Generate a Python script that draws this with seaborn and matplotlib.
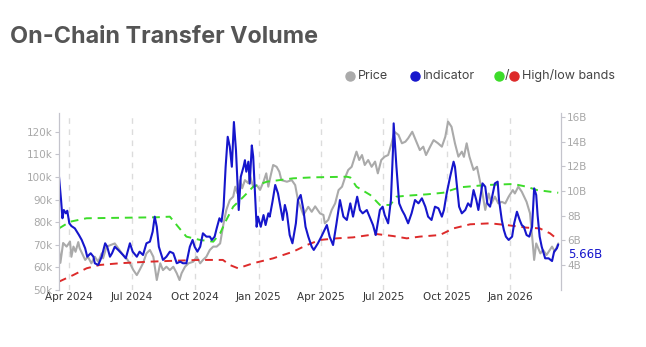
import matplotlib
matplotlib.use("Agg")
import matplotlib.pyplot as plt
import matplotlib.dates as mdates
from matplotlib.lines import Line2D
import seaborn as sns
import pandas as pd

# ---------------- data ----------------
BASE_DATE = "2024-04-01"          # day offsets below are counted from this date
X_START_DAY, X_END_DAY = -15, 714

price_day = [-15, -13, -9, -4, 1, 3, 6, 9, 13, 15, 23, 27, 32, 37, 42, 47, 49, 54, 66, 71,
             78, 83, 88, 93, 98, 102, 107, 112, 117, 122, 127, 132, 136, 141, 146, 151, 156,
             160, 163, 168, 173, 180, 185, 190, 194, 199, 204, 209, 214, 219, 224, 228, 233,
             238, 241, 244, 248, 251, 255, 260, 262, 267, 272, 277, 282, 286, 289, 292, 296,
             301, 305, 308, 316, 323, 328, 332, 340, 347, 352, 357, 364, 369, 371, 376, 381,
             386, 391, 396, 400, 405, 410, 417, 421, 425, 429, 434, 439, 444, 448, 453, 458,
             463, 468, 472, 478, 483, 488, 492, 498, 504, 509, 514, 518, 524, 529, 535, 541,
             546, 550, 555, 560, 565, 570, 573, 577, 581, 587, 592, 596, 600, 604, 609, 613,
             618, 623, 628, 633, 638, 644, 647, 652, 657, 664, 669, 673, 675, 678, 684, 688,
             693, 701, 705, 710]
price_k = [67.7, 62.0, 70.8, 69.2, 71.4, 64.7, 69.2, 66.9, 71.2, 68.5, 63.3, 64.7, 61.8, 64.7,
           62.5, 66.2, 64.0, 69.2, 70.6, 68.5, 65.5, 64.0, 61.8, 58.8, 56.6, 58.8, 61.8, 66.2,
           67.7, 64.7, 54.4, 61.8, 58.8, 60.3, 58.8, 60.3, 57.4, 54.4, 57.4, 60.3, 61.8, 62.5,
           64.7, 61.8, 63.3, 64.7, 67.7, 69.2, 69.2, 70.6, 79.5, 85.4, 89.8, 91.3, 95.7, 92.8,
           98.6, 95.0, 98.6, 97.2, 100.9, 95.7, 96.4, 94.3, 97.9, 101.6, 95.7, 100.1, 105.3,
           104.5, 102.3, 98.6, 97.9, 98.6, 96.4, 89.8, 83.2, 86.8, 84.6, 87.0, 83.9, 83.2, 79.5,
           81.0, 85.4, 88.3, 94.2, 95.7, 99.4, 103.1, 104.5, 111.2, 107.5, 109.7, 105.3, 107.5,
           104.5, 106.8, 101.6, 107.5, 109.0, 109.7, 114.9, 120.0, 118.6, 114.9, 115.6, 117.1,
           120.0, 115.6, 111.9, 113.4, 109.7, 113.4, 116.3, 115.0, 113.4, 117.8, 124.5, 122.2,
           114.9, 109.0, 111.2, 108.9, 114.9, 109.0, 103.1, 104.5, 98.6, 92.7, 85.4, 92.7, 88.3,
           91.3, 88.3, 89.0, 88.3, 91.3, 94.2, 92.7, 95.7, 93.5, 89.0, 83.9, 70.6, 63.3, 70.6,
           66.2, 67.7, 65.5, 69.2, 67.0, 70.6]

ind_day = [-15, -12, -10, -8, -5, -3, 0, 3, 8, 11, 14, 18, 23, 26, 31, 35, 37, 42, 47, 52, 55,
           59, 62, 66, 71, 78, 82, 88, 92, 98, 102, 107, 112, 117, 121, 124, 127, 130, 136, 141,
           146, 151, 156, 161, 165, 170, 175, 179, 182, 186, 190, 194, 199, 204, 207, 211, 214,
           218, 221, 224, 227, 230, 233, 236, 239, 242, 246, 249, 253, 255, 257, 260, 262, 265,
           267, 272, 274, 278, 282, 285, 289, 291, 295, 299, 303, 310, 313, 316, 320, 324, 329,
           332, 336, 340, 343, 347, 352, 355, 361, 366, 374, 378, 383, 388, 393, 398, 403, 408,
           412, 418, 422, 426, 432, 437, 441, 445, 451, 455, 458, 463, 467, 470, 471, 475, 479,
           483, 487, 492, 497, 502, 507, 512, 517, 521, 526, 531, 536, 541, 544, 548, 553, 558,
           560, 563, 566, 570, 575, 579, 583, 587, 591, 594, 597, 600, 604, 607, 611, 615, 618,
           622, 624, 628, 631, 634, 638, 643, 646, 650, 654, 657, 660, 664, 668, 672, 675, 678,
           680, 683, 686, 691, 696, 701, 704, 708, 710]
ind_b = [11.16, 9.27, 7.79, 8.46, 8.19, 8.40, 7.38, 7.16, 6.97, 6.70, 6.43, 6.03, 5.35, 4.67,
         4.95, 4.67, 4.14, 4.00, 4.67, 5.76, 5.48, 4.67, 4.95, 5.48, 5.22, 4.81, 4.54, 5.76,
         5.08, 4.67, 5.08, 4.81, 5.76, 5.89, 6.70, 7.92, 7.10, 5.48, 4.41, 4.67, 5.08, 4.95,
         4.14, 4.27, 4.14, 4.14, 5.48, 6.03, 5.48, 5.08, 5.48, 6.57, 6.30, 6.30, 6.03, 6.30,
         6.97, 7.79, 7.51, 8.73, 11.97, 14.40, 13.60, 11.97, 15.60, 13.30, 8.46, 11.16, 11.97,
         12.50, 11.57, 12.38, 10.60, 13.70, 12.80, 7.10, 7.92, 7.10, 8.05, 7.24, 8.19, 7.92,
         9.13, 10.49, 9.81, 7.65, 8.87, 8.19, 6.43, 5.76, 7.38, 9.27, 9.68, 8.46, 7.10, 6.30,
         5.48, 5.22, 5.76, 6.30, 7.24, 6.30, 5.62, 7.38, 9.27, 7.92, 7.65, 9.00, 7.92, 9.54,
         8.46, 8.19, 8.46, 7.79, 7.24, 6.43, 8.46, 8.73, 8.05, 7.38, 9.27, 13.33, 15.49, 11.97,
         9.00, 8.46, 8.05, 7.38, 8.19, 9.27, 9.00, 9.41, 8.73, 7.92, 7.65, 8.73, 8.60, 7.92,
         8.46, 9.81, 11.16, 12.38, 11.97, 10.35, 8.73, 8.19, 8.46, 9.00, 8.73, 10.08, 9.27,
         8.46, 9.54, 10.62, 10.35, 9.00, 8.73, 9.81, 10.62, 10.76, 9.27, 7.65, 6.84, 6.30,
         6.03, 6.30, 7.38, 8.32, 7.65, 7.24, 7.10, 6.43, 6.30, 7.10, 10.22, 9.68, 8.05, 6.30,
         5.48, 4.54, 4.54, 4.32, 5.08, 5.35, 5.66]

high_day = [-15, 1, 25, 127, 146, 158, 170, 190, 209, 219, 228, 238, 253, 267, 287, 306, 325,
            354, 403, 408, 417, 437, 451, 466, 475, 490, 519, 543, 567, 606, 645, 664, 679, 710]
high_b = [6.97, 7.51, 7.79, 7.87, 7.92, 7.10, 6.30, 6.03, 5.89, 6.57, 7.65, 8.73, 9.54, 10.35,
          10.76, 10.89, 11.03, 11.11, 11.16, 11.10, 10.35, 9.68, 8.87, 8.87, 9.54, 9.62, 9.73,
          9.86, 10.30, 10.49, 10.57, 10.35, 10.08, 9.86]

low_day = [-15, 6, 25, 44, 73, 117, 156, 190, 223, 233, 245, 267, 296, 325, 345, 364, 388, 412,
           446, 470, 490, 509, 538, 558, 582, 611, 635, 664, 683, 698, 710]
low_b = [2.65, 3.19, 3.73, 4.00, 4.14, 4.27, 4.35, 4.41, 4.41, 4.00, 3.73, 4.14, 4.54, 5.08,
         5.62, 6.03, 6.16, 6.24, 6.51, 6.35, 6.16, 6.30, 6.43, 6.97, 7.30, 7.38, 7.24, 7.03,
         6.97, 6.57, 6.03]

price_ticks_k = [50, 60, 70, 80, 90, 100, 110, 120]
ind_ticks_b = [4, 6, 8, 10, 12, 14, 16]
TITLE = "On-Chain Transfer Volume"
LEGEND_LABELS = ["Price", "Indicator", "High/low bands"]

# ---------------- build frames ----------------
base = pd.Timestamp(BASE_DATE)
def to_dates(days):
    return base + pd.to_timedelta(days, unit="D")

df_price = pd.DataFrame({"date": to_dates(price_day), "value": price_k})
df_ind = pd.DataFrame({"date": to_dates(ind_day), "value": ind_b})
df_high = pd.DataFrame({"date": to_dates(high_day), "value": high_b})
df_low = pd.DataFrame({"date": to_dates(low_day), "value": low_b})

# ---------------- style ----------------
sns.set_style("white")
plt.rcParams["font.family"] = ["DejaVu Sans"]

C_PRICE = "#aaaaaa"
C_IND = "#1616cc"
C_HIGH = "#3ddc2a"
C_LOW = "#dd2a2a"

W, H = 646, 347
fig = plt.figure(figsize=(W / 100, H / 100), dpi=100)
ax = fig.add_axes([59 / W, 1 - 290 / H, (561 - 59) / W, (290 - 113) / H])
ax2 = ax.twinx()

sns.lineplot(data=df_price, x="date", y="value", ax=ax, color=C_PRICE, linewidth=1.5)
sns.lineplot(data=df_high, x="date", y="value", ax=ax2, color=C_HIGH, linewidth=1.4,
             linestyle=(0, (4, 3)))
sns.lineplot(data=df_low, x="date", y="value", ax=ax2, color=C_LOW, linewidth=1.4,
             linestyle=(0, (4, 3)))
sns.lineplot(data=df_ind, x="date", y="value", ax=ax2, color=C_IND, linewidth=1.5)

ax.set_xlim(to_dates([X_START_DAY])[0], to_dates([X_END_DAY])[0])
ax.set_ylim(50, 128.3)
ax2.set_ylim(1.97, 16.33)

ax.set_yticks(price_ticks_k)
ax.set_yticklabels([f"{v}k" for v in price_ticks_k])
ax2.set_yticks(ind_ticks_b)
ax2.set_yticklabels([f"{v}B" for v in ind_ticks_b])

ax.xaxis.set_major_locator(mdates.MonthLocator(bymonth=[1, 4, 7, 10]))
ax.xaxis.set_major_formatter(mdates.DateFormatter("%b %Y"))

for a in (ax, ax2):
    a.set_xlabel("")
    a.set_ylabel("")
    a.spines["top"].set_visible(False)
    a.spines["bottom"].set_visible(False)
    a.spines["left"].set_color("#c4c4cc")
    a.spines["right"].set_color("#c4c4cc")
    a.tick_params(axis="y", length=3, width=0.8, color="#c4c4cc", labelsize=7.5,
                  labelcolor="#a8a8a8", pad=1.5)
ax.tick_params(axis="x", length=0, labelsize=7.5, labelcolor="#333333", pad=1.5)

ax.grid(axis="x", color="#dcdcdc", linestyle=(0, (4, 4)), linewidth=1)
ax.grid(axis="y", visible=False)
ax2.grid(False)

# end-value label
ax2.annotate(f"{ind_b[-1]:.2f}B", xy=(df_ind["date"].iloc[-1], ind_b[-1]),
             xytext=(7, -7), textcoords="offset points", va="center", ha="left",
             color=C_IND, fontsize=8.5, annotation_clip=False)

# title
fig.text(10 / W, 1 - 37 / H, TITLE, family=["Inter", "DejaVu Sans"], fontweight="bold",
         fontsize=16.8, color="#555555", va="center", ha="left")

# legend (manual)
ly = 1 - 76 / H
def dot(xpx, color):
    fig.add_artist(Line2D([xpx / W], [ly], marker="o", markersize=6.5, color=color,
                          linestyle="none", transform=fig.transFigure))
def ltxt(xpx, s):
    fig.text(xpx / W, ly, s, family=["Inter", "DejaVu Sans"], fontsize=9, color="#444444",
             va="center", ha="left")
dot(350, C_PRICE)
ltxt(358, LEGEND_LABELS[0])
dot(415, C_IND)
ltxt(423, LEGEND_LABELS[1])
dot(499, C_HIGH)
ltxt(505, "/")
dot(514, C_LOW)
ltxt(522, LEGEND_LABELS[2])

fig.savefig("out.png", dpi=100)
